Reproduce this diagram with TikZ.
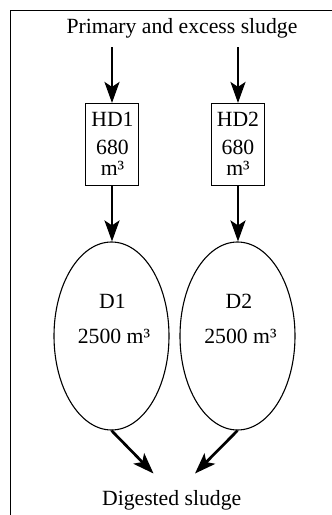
\documentclass[tikz,border=0pt]{standalone}
\usepackage{fontspec}
\setmainfont{Liberation Serif}
\usetikzlibrary{arrows.meta,shapes.geometric}
\begin{document}
\begin{tikzpicture}[x=1pt,y=-1pt,
  lbl/.style={font=\fontsize{21.7}{24}\selectfont, inner sep=0pt, anchor=base},
  tank/.style={draw, line width=1.1pt, minimum width=53pt, minimum height=82pt, inner sep=0pt},
  digester/.style={draw, ellipse, line width=1.1pt, minimum width=115pt, minimum height=188pt, inner sep=0pt},
  flow/.style={line width=2.7pt, -{Stealth[length=21pt,width=15pt,inset=5pt]}}]
  % page and frame (open towards right and bottom)
  \useasboundingbox (0,0) rectangle (332,515);
  \clip (0,0) rectangle (332,515);
  \draw[line width=1pt] (10.5,10.5) rectangle (345,530);

  % feed
  \node[lbl] (feed) at (182,33.3) {Primary and excess sludge};
  \coordinate (in1) at (112,47);
  \coordinate (in2) at (238,47);

  % holding tanks
  \node[tank] (hd1) at (112,144.5) {};
  \node[lbl] (hd1a) at (112.5,126.7) {HD1};
  \node[lbl] (hd1b) at (112.5,154.3) {680};
  \node[lbl] (hd1c) at (112.5,175.7) {m³};
  \node[tank] (hd2) at (238,144.5) {};
  \node[lbl] (hd2a) at (238,126.7) {HD2};
  \node[lbl] (hd2b) at (238,154.3) {680};
  \node[lbl] (hd2c) at (238,175.7) {m³};

  % digesters
  \node[digester] (d1) at (111.5,336) {};
  \node[lbl] (d1a) at (112.5,308.3) {D1};
  \node[lbl] (d1b) at (114,343.3) {2500 m³};
  \node[digester] (d2) at (237.5,336) {};
  \node[lbl] (d2a) at (239,308.3) {D2};
  \node[lbl] (d2b) at (240.5,343.3) {2500 m³};

  % output
  \node[lbl] (out) at (171.7,505) {Digested sludge};
  \coordinate (out1) at (153.5,473.5);
  \coordinate (out2) at (195,473.5);

  % flows
  \draw[flow] (in1) -- (in1 |- hd1.north);
  \draw[flow] (in2) -- (in2 |- hd2.north);
  \draw[flow] (hd1.south) -- (hd1.south |- d1.north);
  \draw[flow] (hd2.south) -- (hd2.south |- d2.north);
  \draw[flow] (d1.south) -- (out1);
  \draw[flow] (d2.south) -- (out2);
\end{tikzpicture}
\end{document}
